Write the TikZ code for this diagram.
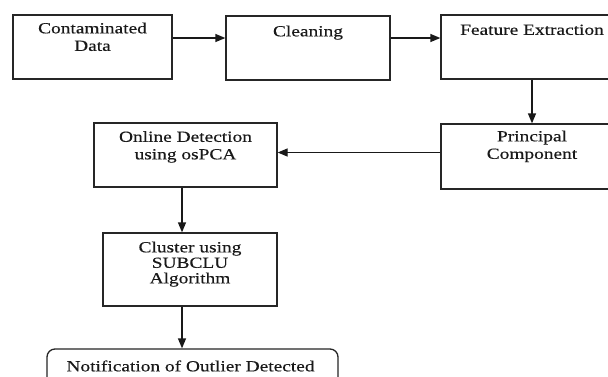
\documentclass[tikz,border=0pt]{standalone}
\usepackage{fontspec}
\setmainfont{Liberation Serif}[FakeStretch=1.25,FakeBold=0.3]
\usetikzlibrary{arrows.meta}
\begin{document}
\begin{tikzpicture}[x=1pt,y=-1pt,
  box/.style={draw=black!85, line width=1.3pt, rectangle, inner sep=0pt, fill=white},
  txt/.style={font=\fontsize{15.5}{17.5}\selectfont, align=center, inner sep=0pt, text=black!90, anchor=base},
  arr/.style={draw=black!90, line width=1.3pt, -{Triangle[length=10pt,width=8pt]}}]
\clip (0,0) rectangle (608,376);
\fill[white] (0,0) rectangle (608,376);
% boxes
\node[box, minimum width=159pt, minimum height=64pt] (b1) at (92.5,47) {};
\node[box, minimum width=164pt, minimum height=64pt] (b2) at (308,48) {};
\node[box, minimum width=182pt, minimum height=64pt] (b3) at (532,47) {};
\node[box, minimum width=182pt, minimum height=65pt] (b4) at (532,156.5) {};
\node[box, minimum width=183pt, minimum height=64pt] (b5) at (185.5,155) {};
\node[box, minimum width=174pt, minimum height=73pt] (b6) at (190,269.5) {};
\node[box, rounded corners=8pt, minimum width=291pt, minimum height=62pt] (b7) at (192.5,380) {};
% texts (anchor=base is the baseline of the last line)
\node[txt] (t1) at ([yshift=-36.5pt]b1.north) {Contaminated\\Data};
\node[txt] (t2) at ([yshift=-21pt]b2.north) {Cleaning};
\node[txt] (t3) at ([yshift=-20.5pt]b3.north) {Feature Extraction};
\node[txt] (t4) at ([yshift=-35.5pt]b4.north) {Principal\\Component};
\node[txt] (t5) at ([yshift=-37pt]b5.north) {Online Detection\\using osPCA};
\node[txt, font=\fontsize{15.5}{15.5}\selectfont] (t6) at ([yshift=-51pt]b6.north) {Cluster using\\SUBCLU\\Algorithm};
\node[txt] (t7) at ([yshift=-23pt, xshift=-2pt]b7.north) {Notification of Outlier Detected};
% arrows
\draw[arr] ([yshift=9pt]b1.east) -- ([yshift=9pt]b1.east -| b2.west);
\draw[arr] ([yshift=10pt]b2.east) -- ([yshift=10pt]b2.east -| b3.west);
\draw[arr] (b3.south) -- (b4.north);
\draw[arr] ([yshift=4pt]b4.west) -- ([yshift=4pt]b4.west -| b5.east);
\draw[arr] ([xshift=-3.5pt]b5.south) -- ([xshift=-3.5pt]b5.south |- b6.north);
\draw[arr] ([xshift=-8pt]b6.south) -- ([xshift=-8pt]b6.south |- b7.north);
\end{tikzpicture}
\end{document}
